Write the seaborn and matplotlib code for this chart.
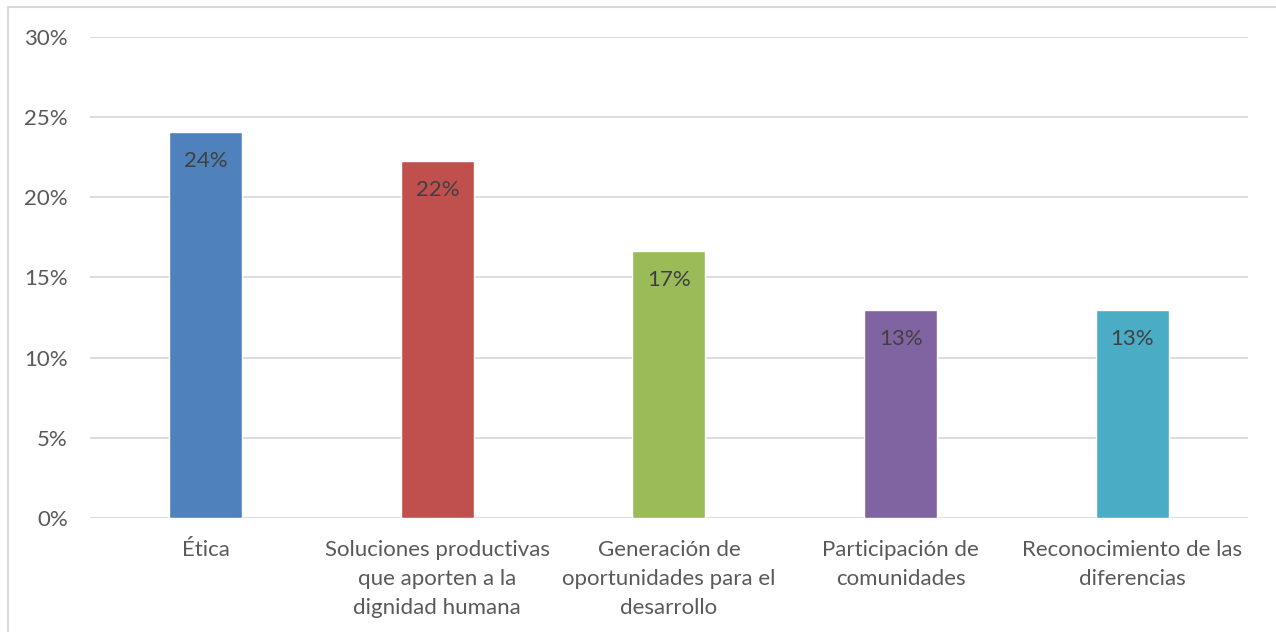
import pandas as pd
import seaborn as sns
from matplotlib import pyplot as plt
from matplotlib.ticker import PercentFormatter
from matplotlib.patches import Rectangle

categorias = ["Ética",
              "Soluciones productivas\nque aporten a la\ndignidad humana",
              "Generación de\noportunidades para el\ndesarrollo",
              "Participación de\ncomunidades",
              "Reconocimiento de las\ndiferencias"]
valores = [0.2408, 0.2227, 0.1666, 0.1297, 0.1297]
etiquetas = ["24%", "22%", "17%", "13%", "13%"]
colores = ["#4F81BD", "#C0504D", "#9BBB59", "#8064A2", "#4BACC6"]

df = pd.DataFrame({"categoria": categorias, "valor": valores})

sns.set_style("white")
plt.rcParams['font.family'] = ['Lato', 'DejaVu Sans']

fig = plt.figure(figsize=(12.76, 6.32), dpi=100)
ax = fig.add_axes([0.0705, 0.1804, 0.9075, 0.7611])

sns.barplot(data=df, x="categoria", y="valor", hue="categoria", palette=colores,
            width=0.315, legend=False, ax=ax, saturation=1)

ax.set_ylim(0, 0.30)
ax.set_xlim(-0.5, len(categorias) - 0.5)
ax.set_yticks([0, 0.05, 0.10, 0.15, 0.20, 0.25, 0.30])
ax.yaxis.set_major_formatter(PercentFormatter(1.0, decimals=0))
ax.grid(axis="y", color="#D9D9D9", linewidth=1.3)
ax.set_axisbelow(True)
for s in ax.spines.values():
    s.set_visible(False)
ax.set_xlabel("")
ax.set_ylabel("")
ax.tick_params(axis="y", labelsize=16, colors="#595959", length=0, pad=16)
ax.tick_params(axis="x", labelsize=16, colors="#595959", length=0, pad=16)
for lbl in ax.get_xticklabels():
    lbl.set_linespacing(1.55)

for i, (v, t) in enumerate(zip(valores, etiquetas)):
    ax.annotate(t, (i, v), xytext=(0, -21), textcoords="offset points",
                ha="center", va="center", fontsize=16, color="#404040")

# chart frame (partially visible)
fig.patches.append(Rectangle((8 / 1276, -0.1), 1.2, 1 - 7 / 632 + 0.1,
                             transform=fig.transFigure, fill=False,
                             edgecolor="#D9D9D9", linewidth=1.5))

plt.savefig("out.png", dpi=100)
